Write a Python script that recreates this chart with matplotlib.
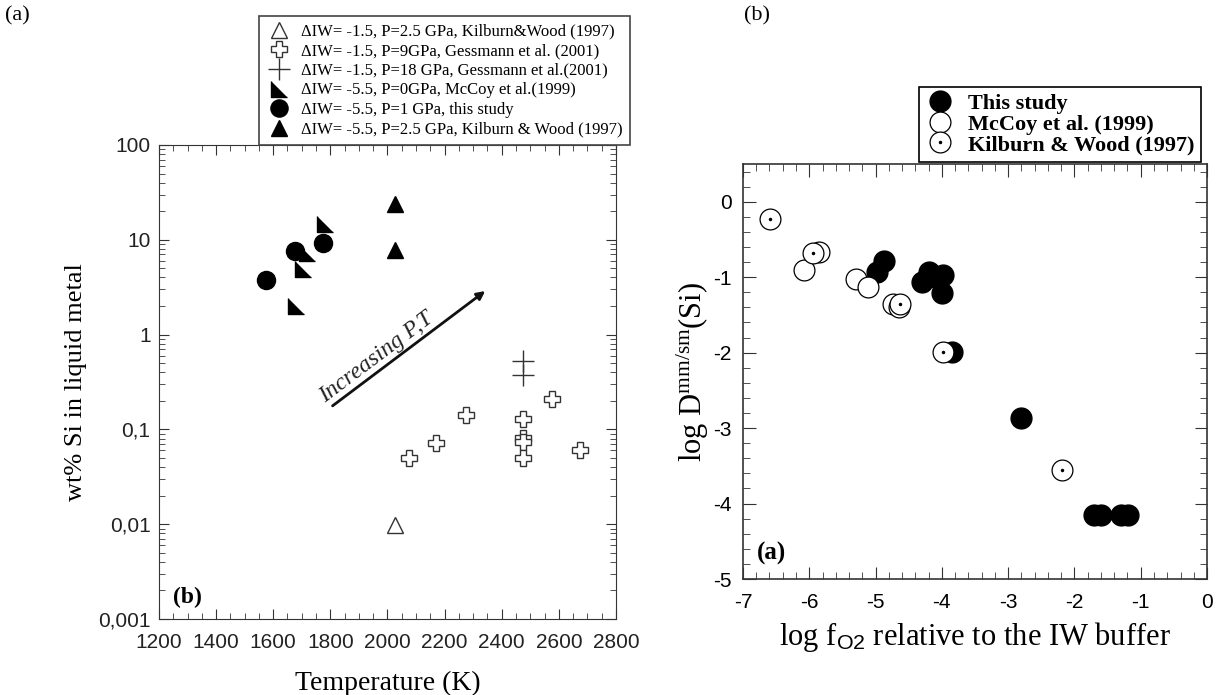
import matplotlib
matplotlib.use("Agg")
import matplotlib.pyplot as plt
from matplotlib.ticker import MultipleLocator, FixedLocator, FixedFormatter, LogLocator, NullFormatter
from matplotlib.legend_handler import HandlerTuple

# ---- panel (a) left: wt% Si in liquid metal vs temperature ----
kw_low_T = [2025]
kw_low_w = [0.0097]
gess9_T = [2075, 2170, 2275, 2475, 2475, 2475, 2475, 2575, 2675]
gess9_w = [0.050, 0.071, 0.142, 0.130, 0.082, 0.073, 0.050, 0.207, 0.060]
gess18_T = [2475, 2475]
gess18_w = [0.52, 0.375]
mccoy_T = [1680, 1705, 1720, 1780]
mccoy_w = [2.0, 4.9, 7.2, 14.7]
this_T = [1575, 1675, 1775]
this_w = [3.8, 7.7, 9.2]
kw_high_T = [2025, 2025]
kw_high_w = [23.7, 7.8]

left_labels = [
    "\u0394IW= -1.5, P=2.5 GPa, Kilburn&Wood (1997)",
    "\u0394IW= -1.5, P=9GPa, Gessmann et al. (2001)",
    "\u0394IW= -1.5, P=18 GPa, Gessmann et al.(2001)",
    "\u0394IW= -5.5, P=0GPa, McCoy et al.(1999)",
    "\u0394IW= -5.5, P=1 GPa, this study",
    "\u0394IW= -5.5, P=2.5 GPa, Kilburn & Wood (1997)",
]
y_ticks = [0.001, 0.01, 0.1, 1, 10, 100]
y_ticklabels = ["0,001", "0,01", "0,1", "1", "10", "100"]

# ---- panel (b) right: log D vs log fO2 ----
this_fo2 = [-4.88, -4.98, -4.20, -4.30, -4.10, -3.98, -4.00, -3.85, -2.80, -1.70, -1.60, -1.30, -1.19]
this_D = [-0.79, -0.93, -0.93, -1.06, -1.00, -0.97, -1.21, -1.99, -2.86, -4.15, -4.15, -4.15, -4.15]
mccoy_fo2 = [-6.08, -5.86, -5.30, -5.12, -4.73, -4.65]
mccoy_D = [-0.90, -0.67, -1.02, -1.13, -1.35, -1.40]
kw_fo2 = [-6.59, -5.95, -4.63, -3.99, -2.19]
kw_D = [-0.23, -0.68, -1.35, -1.99, -3.55]

serif = ["Liberation Serif", "DejaVu Serif"]
sans = ["Liberation Sans", "DejaVu Sans"]
plt.rcParams["font.family"] = sans
plt.rcParams["axes.unicode_minus"] = False
plt.rcParams["mathtext.fontset"] = "custom"
plt.rcParams["mathtext.rm"] = "Liberation Serif"
plt.rcParams["mathtext.it"] = "Liberation Serif:italic"
plt.rcParams["mathtext.sf"] = "Liberation Sans"

fig = plt.figure(figsize=(12.19, 6.95), dpi=100)

# ================= left panel =================
ax1 = fig.add_axes([0.1304, 0.1094, 0.3749, 0.682])
ax1.set_yscale("log")
tri_right = [(-1, 1), (-1, -1), (1, -1)]

h1, = ax1.plot(kw_low_T, kw_low_w, ls="none", marker="^", ms=12, mfc="white", mec="#333", mew=1.0)
h2, = ax1.plot(gess9_T, gess9_w, ls="none", marker="P", ms=12, mfc="white", mec="#333", mew=1.0)
h3, = ax1.plot(gess18_T, gess18_w, ls="none", marker="+", ms=16, mec="#333", mew=1.0)
h4, = ax1.plot(mccoy_T, mccoy_w, ls="none", marker=tri_right, ms=12, mfc="black", mec="black")
h5, = ax1.plot(this_T, this_w, ls="none", marker="o", ms=13, mfc="black", mec="black")
h6, = ax1.plot(kw_high_T, kw_high_w, ls="none", marker="^", ms=12, mfc="black", mec="black")

ax1.set_xlim(1200, 2800)
ax1.set_ylim(0.001, 100)
ax1.xaxis.set_major_locator(MultipleLocator(200))
ax1.xaxis.set_minor_locator(MultipleLocator(50))
ax1.yaxis.set_major_locator(FixedLocator(y_ticks))
ax1.yaxis.set_major_formatter(FixedFormatter(y_ticklabels))
ax1.yaxis.set_minor_locator(LogLocator(base=10, subs=range(2, 10)))
ax1.yaxis.set_minor_formatter(NullFormatter())
ax1.tick_params(which="both", direction="in", top=True, right=True, colors="#333", labelcolor="#222")
ax1.tick_params(which="major", length=7, labelsize=15)
ax1.tick_params(axis="x", which="major", pad=10)
ax1.tick_params(axis="y", which="major", pad=6)
ax1.tick_params(which="minor", length=4)
for s in ax1.spines.values():
    s.set_color("#333")
ax1.set_xlabel("Temperature (K)", family=serif, fontsize=20, labelpad=14)
ax1.set_ylabel("wt% Si in liquid metal", family=serif, fontsize=19, labelpad=8)

ax1.annotate("", xy=(2350, 3.0), xytext=(1800, 0.17),
             arrowprops=dict(arrowstyle="-|>", lw=2, color="#111", mutation_scale=12))
ax1.text(1960, 0.58, "Increasing P,T", family=serif, style="italic", fontsize=17,
         rotation=37, ha="center", va="center", color="#222")
ax1.text(0.063, 0.045, "(b)", transform=ax1.transAxes, family=serif, fontweight="bold",
         fontsize=17, ha="center", va="center")

leg1 = fig.legend([h1, h2, h3, h4, h5, h6], left_labels, loc="upper right",
                  bbox_to_anchor=(0.517, 0.977), bbox_transform=fig.transFigure,
                  prop={"family": serif, "size": 12}, frameon=True, fancybox=False,
                  edgecolor="#444", framealpha=1, borderaxespad=0, labelspacing=0.22,
                  handletextpad=0.6, handlelength=1.5, borderpad=0.45, markerscale=0.95)
leg1.get_frame().set_linewidth(1.2)

# ================= right panel =================
ax2 = fig.add_axes([0.6095, 0.1669, 0.3807, 0.5971])
g1, = ax2.plot(this_fo2, this_D, ls="none", marker="o", ms=15, mfc="black", mec="black", zorder=2)
g2, = ax2.plot(mccoy_fo2, mccoy_D, ls="none", marker="o", ms=15, mfc="white", mec="black", mew=0.9, zorder=3)
g3a, = ax2.plot(kw_fo2, kw_D, ls="none", marker="o", ms=15, mfc="white", mec="black", mew=0.9, zorder=4)
g3b, = ax2.plot(kw_fo2, kw_D, ls="none", marker="o", ms=1.5, mfc="black", mec="black", zorder=5)

ax2.set_xlim(-7, 0)
ax2.set_ylim(-5, 0.5)
ax2.xaxis.set_major_locator(MultipleLocator(1))
ax2.xaxis.set_minor_locator(MultipleLocator(0.2))
ax2.yaxis.set_major_locator(MultipleLocator(1))
ax2.yaxis.set_minor_locator(MultipleLocator(0.2))
ax2.tick_params(which="both", direction="in", top=True, right=True, colors="#333", labelcolor="black")
ax2.tick_params(which="major", length=9, labelsize=15)
ax2.tick_params(axis="x", which="major", pad=10)
ax2.tick_params(axis="y", which="major", pad=8)
ax2.tick_params(which="minor", length=5)
for s in ax2.spines.values():
    s.set_color("#333")
    s.set_linewidth(1.2)
ax2.set_xlabel(r"log f$_{\mathsf{O2}}$ relative to the IW buffer", family=serif, fontsize=22, labelpad=6)
ax2.set_ylabel(r"log D$^{\mathrm{mm/sm}}$(Si)", family=serif, fontsize=22, labelpad=2)
ax2.text(0.062, 0.062, "(a)", transform=ax2.transAxes, family=serif, fontweight="bold",
         fontsize=18, ha="center", va="center")

leg2 = fig.legend([g1, g2, (g3a, g3b)], ["This study", "McCoy et al. (1999)", "Kilburn & Wood (1997)"],
                  handler_map={tuple: HandlerTuple(ndivide=1, pad=0)},
                  loc="upper right", bbox_to_anchor=(0.985, 0.875), bbox_transform=fig.transFigure,
                  prop={"family": serif, "size": 16, "weight": "bold"}, frameon=True, fancybox=False,
                  edgecolor="black", framealpha=1, borderaxespad=0, labelspacing=0.0,
                  handletextpad=0.6, handlelength=1.3, borderpad=0.3, markerscale=1.0)
leg2.get_frame().set_linewidth(1.2)

fig.text(0.014, 0.977, "(a)", family=serif, fontsize=16, ha="center", va="center")
fig.text(0.621, 0.977, "(b)", family=serif, fontsize=16, ha="center", va="center")

fig.savefig("out.png", dpi=100)
